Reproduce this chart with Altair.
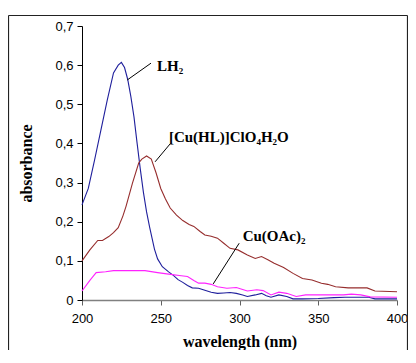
import altair as alt
import pandas as pd

series_names = ["LH2", "[Cu(HL)]ClO4H2O", "Cu(OAc)2"]
series_colors = ["#1f1f9c", "#962d2d", "#ff22ff"]

wl_lh2 = [200, 204, 208, 212, 216, 220, 223, 225, 227, 229, 231, 233, 235, 237, 239, 241, 243, 246, 248,
          251, 255, 258, 261, 264, 267, 270, 274, 278, 282, 286, 290, 294, 298, 302, 305, 310, 314, 317,
          320, 325, 330, 334, 340, 350, 360, 367, 375, 382, 386, 400]
abs_lh2 = [0.243, 0.285, 0.358, 0.434, 0.51, 0.58, 0.600, 0.607, 0.594, 0.564, 0.52, 0.468, 0.40, 0.335,
           0.275, 0.225, 0.185, 0.13, 0.105, 0.085, 0.072, 0.063, 0.052, 0.045, 0.037, 0.031, 0.030,
           0.025, 0.02, 0.017, 0.018, 0.019, 0.017, 0.013, 0.009, 0.013, 0.017, 0.011, 0.007, 0.013,
           0.009, 0.003, 0.003, 0.004, 0.006, 0.007, 0.007, 0.007, 0.003, 0.003]

wl_cu = [200, 205, 210, 213, 217, 220, 223, 226, 228, 232, 236, 238, 241, 244, 247, 250, 253, 256, 260,
         264, 268, 271, 275, 278, 282, 286, 290, 294, 299, 305, 310, 314, 318, 322, 328, 334, 340, 346,
         352, 356, 361, 369, 381, 386, 400]
abs_cu = [0.100, 0.128, 0.152, 0.152, 0.162, 0.172, 0.185, 0.215, 0.240, 0.298, 0.350, 0.360, 0.368,
          0.360, 0.325, 0.285, 0.258, 0.235, 0.217, 0.203, 0.193, 0.188, 0.175, 0.166, 0.163, 0.158,
          0.145, 0.132, 0.128, 0.115, 0.106, 0.111, 0.103, 0.094, 0.083, 0.068, 0.055, 0.051, 0.043,
          0.040, 0.034, 0.031, 0.031, 0.023, 0.021]

wl_oac = [200, 205, 209, 215, 220, 230, 240, 248, 255, 263, 267, 271, 274, 278, 282, 286, 292, 298, 302,
          305, 311, 315, 320, 325, 330, 336, 342, 350, 360, 366, 371, 377, 383, 400]
abs_oac = [0.023, 0.05, 0.070, 0.072, 0.075, 0.075, 0.075, 0.070, 0.066, 0.062, 0.060, 0.050, 0.043,
           0.043, 0.040, 0.034, 0.030, 0.032, 0.027, 0.023, 0.026, 0.024, 0.013, 0.020, 0.017, 0.009,
           0.013, 0.013, 0.013, 0.013, 0.015, 0.013, 0.008, 0.007]

x_ticks = [200, 250, 300, 350, 400]
y_ticks = [0, 0.1, 0.2, 0.3, 0.4, 0.5, 0.6, 0.7]

label_texts = ["LH\u2082", "[Cu(HL)]ClO\u2084H\u2082O", "Cu(OAc)\u2082"]
label_x = [247.6, 255.2, 302.0]
label_y = [0.585, 0.404, 0.151]

lead_x1 = [228.7, 246.4, 283.3]
lead_y1 = [0.562, 0.353, 0.041]
lead_x2 = [243.8, 256.2, 299.8]
lead_y2 = [0.605, 0.400, 0.145]

rows = []
for name, wl, ab in zip(series_names, [wl_lh2, wl_cu, wl_oac], [abs_lh2, abs_cu, abs_oac]):
    for w, a in zip(wl, ab):
        rows.append({"series": name, "wavelength": w, "absorbance": a})
df = pd.DataFrame(rows)

labels_df = pd.DataFrame({"text": label_texts, "x": label_x, "y": label_y})
leads_df = pd.DataFrame({"x1": lead_x1, "y1": lead_y1, "x2": lead_x2, "y2": lead_y2})

x_scale = alt.Scale(domain=[200, 400], nice=False, zero=False)
y_scale = alt.Scale(domain=[0, 0.7], nice=False)

x_axis = alt.Axis(
    values=x_ticks, title="wavelength (nm)", grid=False,
    labelFlush=False, labelOverlap=False,
    domainColor="#808080", domainWidth=1.5, tickColor="#606060", tickSize=5,
    labelFont="Liberation Sans", labelFontSize=13, labelColor="#000000", labelPadding=7,
    titleFont="Liberation Serif", titleFontSize=16, titleFontWeight="bold", titleColor="#000000",
    titleY=46, titleBaseline="alphabetic",
)
y_axis = alt.Axis(
    values=y_ticks, title="absorbance", grid=False,
    labelFlush=False, labelOverlap=False,
    domainColor="#000000", domainWidth=1, tickColor="#000000", tickSize=5,
    labelFont="Liberation Sans", labelFontSize=13, labelColor="#000000", labelPadding=4,
    labelExpr="datum.value == 0 ? '0' : replace(format(datum.value, '.1f'), '.', ',')",
    titleFont="Liberation Serif", titleFontSize=16, titleFontWeight="bold", titleColor="#000000",
    titleX=-51, titleBaseline="alphabetic",
)

lines = alt.Chart(df).mark_line(strokeWidth=1.1).encode(
    x=alt.X("wavelength:Q", scale=x_scale, axis=x_axis),
    y=alt.Y("absorbance:Q", scale=y_scale, axis=y_axis),
    color=alt.Color("series:N", scale=alt.Scale(domain=series_names, range=series_colors), legend=None),
)

leads = alt.Chart(leads_df).mark_rule(color="#000000", strokeWidth=1).encode(
    x=alt.X("x1:Q", scale=x_scale, axis=x_axis),
    y=alt.Y("y1:Q", scale=y_scale, axis=y_axis),
    x2="x2:Q",
    y2="y2:Q",
)

labels = alt.Chart(labels_df).mark_text(
    align="left", baseline="alphabetic", font="Liberation Serif", fontSize=15,
    fontWeight="bold", color="#000000",
).encode(
    x=alt.X("x:Q", scale=x_scale, axis=x_axis),
    y=alt.Y("y:Q", scale=y_scale, axis=y_axis),
    text="text:N",
)

# outer chart frame (left, top, right edges)
frame_left = alt.Chart(alt.Data(values=[{"k": 1}])).mark_rule(color="#222222", strokeWidth=1.2).encode(
    x=alt.value(-73.5), y=alt.value(-10.5), y2=alt.value(330),
)
frame_top = alt.Chart(alt.Data(values=[{"k": 1}])).mark_rule(color="#222222", strokeWidth=1.2).encode(
    x=alt.value(-73.5), x2=alt.value(325.5), y=alt.value(-10.5),
)
frame_right = alt.Chart(alt.Data(values=[{"k": 1}])).mark_rule(color="#222222", strokeWidth=1.2).encode(
    x=alt.value(325.5), y=alt.value(-10.5), y2=alt.value(330),
)

chart = alt.layer(lines, leads, labels, frame_left, frame_top, frame_right).properties(
    width=315, height=274,
    autosize=alt.AutoSizeParams(type="none"),
    padding={"left": 74, "top": 18, "right": 11, "bottom": 50},
    background="white",
).configure_view(strokeWidth=0).configure_axis(labelOverlap=False, labelFlush=False)

chart.save("out.html", embed_options={"renderer": "svg", "actions": False})
